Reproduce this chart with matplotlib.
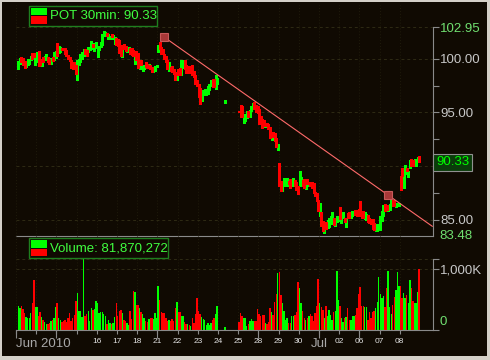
import numpy as np
import matplotlib
matplotlib.use("Agg")
import matplotlib.pyplot as plt
from matplotlib.patches import Rectangle

plt.rcParams['font.family'] = ['Liberation Sans', 'DejaVu Sans']

nan = np.nan
PER_DAY = 13  # 30 min bars per session

day_labels = ['Jun 2010', '', '', '', '16', '17', '18', '21', '22', '23', '24', '25',
              '28', '29', '30', 'Jul', '02', '06', '07', '08']
week_days = [0, 2, 7, 12, 15, 17]

# one row per trading day, 13 half-hour bars each
bar_low = [
    nan, 99.0, 99.5, 99.7, 99.45, 99.15, 99.2, 99.45, 99.55, 99.85, 100.0, 100.15, 99.45,
    99.7, 99.3, 99.4, 99.3, 99.7, 99.85, 100.0, 99.7, 99.5, 99.55, 99.8, 99.85, 100.1,
    100.25, 100.55, 100.6, 100.8, 100.8, 100.45, 100.3, 99.95, 99.75, 99.15, 99.0, 99.2, 98.6,
    98.05, 99.4, 99.7, 100.0, 100.3, 100.45, 100.3, 100.6, 100.8, 100.95, 101.1, 100.7, 101.0,
    100.15, 100.8, 101.1, 101.25, 102.1, 102.15, 102.1, 101.8, 101.8, 102.0, 101.85, 101.4, 101.3,
    101.2, 100.55, 100.3, 100.15, 100.95, 100.7, 100.6, 100.8, 100.45, 100.35, 100.25, 99.55, 99.85,
    99.15, 99.0, 99.4, 98.9, 99.05, 99.2, 99.15, 99.2, 99.05, 98.8, 98.8, 98.9, 99.2,
    100.6, 100.95, 100.45, 100.45, 100.0, 99.65, 99.05, 98.9, 98.9, 98.75, 98.6, 98.05, 98.0,
    98.45, 98.5, 98.45, 99.15, 99.05, 98.7, 98.75, 98.7, 98.8, 98.45, 98.3, 97.65, 97.5,
    96.45, 95.8, 96.1, 96.6, 96.6, 96.6, 96.75, 97.05, 97.45, 97.35, 97.35, 97.15, 97.6,
    nan, nan, nan, nan, 95.9, nan, nan, nan, nan, nan, nan, nan, nan,
    95.0, 94.55, 94.55, 94.05, 94.2, 94.45, 94.55, 94.6, 95.15, 95.3, 95.3, 95.0, 94.9,
    93.9, 93.9, 93.55, 93.75, 93.65, 93.75, 93.45, 92.65, 92.4, 92.75, 92.35, 91.8, 91.5,
    88.15, 87.7, 87.7, 88.15, 88.25, 88.15, 88.3, 88.0, 88.15, 88.4, 88.15, 87.75, 87.4,
    88.15, 88.25, 88.15, 88.0, 87.85, 88.3, 88.15, 88.15, 88.0, 87.45, 87.25, 86.75, 85.85,
    85.3, 84.45, 83.95, 83.8, 84.15, 84.2, 84.3, 84.6, 84.9, 84.55, 84.45, 84.75, 84.9,
    85.05, 84.65, 85.2, 84.75, 84.3, 85.15, 85.2, 85.2, 85.35, 85.45, 85.45, 85.35, 85.45,
    85.35, 85.15, 85.2, 85.05, 84.95, 84.75, 84.65, 84.6, 84.15, 84.05, 83.9, 83.95, 84.05,
    84.05, 84.9, 85.35, 85.85, 85.9, 85.85, 85.9, 86.3, 86.3, 86.3, 86.15, 86.3, 86.3,
    87.75, 89.1, 88.0, 89.25, 89.5, 88.95, 89.85, 90.05, 90.05, 90.05, 90.05, 90.35, 90.33,
]
bar_high = [
    nan, 99.8, 100.05, 100.15, 100.05, 99.8, 99.8, 100.0, 100.0, 100.3, 100.55, 100.55, 100.05,
    100.6, 100.7, 100.0, 99.95, 100.15, 100.3, 100.45, 100.15, 99.95, 100.05, 100.15, 100.6, 100.7,
    101.5, 101.2, 101.1, 101.0, 101.0, 101.0, 100.8, 100.35, 100.15, 99.85, 99.45, 99.7, 99.4,
    99.85, 100.0, 100.45, 100.6, 100.95, 100.95, 100.8, 101.1, 101.1, 101.65, 101.4, 101.5, 101.55,
    101.1, 101.2, 101.6, 102.35, 102.55, 102.5, 102.4, 102.35, 102.15, 102.35, 102.25, 102.0, 101.95,
    101.85, 101.7, 101.25, 101.3, 101.4, 101.2, 101.0, 101.1, 101.0, 101.0, 100.8, 100.7, 100.7,
    100.55, 99.75, 99.85, 99.4, 99.45, 99.65, 99.55, 99.55, 99.4, 99.2, 99.2, 99.3, 99.45,
    101.3, 101.55, 101.1, 100.95, 100.45, 100.25, 99.85, 99.65, 99.2, 99.3, 99.0, 98.8, 98.75,
    99.05, 99.15, 99.85, 99.85, 99.85, 99.45, 99.15, 99.3, 99.3, 99.4, 98.9, 98.45, 98.0,
    97.65, 97.25, 97.05, 97.05, 97.2, 97.05, 97.45, 97.65, 98.0, 98.15, 98.15, 98.45, 98.2,
    nan, nan, nan, nan, 96.2, nan, nan, nan, nan, nan, nan, nan, nan,
    95.15, 95.7, 95.55, 94.85, 94.85, 95.1, 95.15, 95.2, 95.6, 95.85, 95.95, 95.7, 95.55,
    95.3, 94.7, 94.4, 94.3, 94.05, 94.05, 93.9, 93.65, 93.05, 93.15, 93.05, 92.6, 92.05,
    90.25, 88.65, 88.5, 88.9, 88.8, 88.9, 88.65, 88.8, 88.8, 88.9, 88.7, 88.5, 88.15,
    89.55, 89.0, 88.7, 88.8, 88.8, 88.8, 88.55, 88.5, 88.5, 88.4, 87.55, 87.45, 86.85,
    86.6, 85.75, 84.9, 84.65, 84.75, 84.95, 85.15, 85.35, 85.75, 85.2, 85.05, 85.35, 85.3,
    86.15, 85.7, 85.75, 85.2, 85.05, 85.6, 85.7, 85.7, 85.85, 85.85, 85.9, 85.9, 85.95,
    86.7, 85.75, 85.85, 85.7, 85.5, 85.45, 85.15, 85.05, 85.05, 84.65, 84.55, 84.6, 84.6,
    85.35, 85.85, 86.4, 86.45, 86.4, 86.3, 86.45, 86.85, 86.85, 86.75, 86.6, 86.6, 86.6,
    89.1, 89.85, 89.85, 90.1, 89.8, 89.55, 90.55, 90.65, 90.55, 90.65, 90.45, 90.8, 90.95,
]
bar_up = [
    0, 1, 1, 0, 0, 0, 1, 1, 1, 1, 0, 0, 1,
    1, 0, 0, 1, 0, 1, 1, 0, 0, 1, 0, 1, 1,
    0, 1, 1, 0, 0, 0, 0, 0, 0, 0, 0, 0, 0,
    1, 1, 1, 1, 1, 0, 0, 1, 1, 1, 0, 1, 1,
    1, 1, 1, 1, 1, 1, 0, 1, 1, 0, 1, 1, 0,
    0, 0, 0, 1, 0, 0, 1, 1, 0, 0, 0, 1, 0,
    0, 1, 0, 1, 1, 0, 0, 1, 0, 0, 1, 1, 1,
    1, 0, 0, 0, 0, 0, 0, 1, 0, 0, 0, 0, 1,
    0, 0, 1, 1, 0, 0, 1, 0, 1, 0, 0, 0, 0,
    0, 0, 1, 1, 1, 1, 1, 1, 1, 0, 0, 1, 1,
    0, 0, 0, 0, 1, 0, 0, 0, 0, 0, 0, 0, 0,
    0, 0, 0, 1, 1, 1, 0, 1, 1, 1, 0, 0, 0,
    0, 0, 0, 0, 1, 0, 0, 0, 1, 0, 0, 0, 1,
    0, 0, 1, 1, 1, 1, 0, 0, 1, 1, 0, 0, 0,
    1, 1, 0, 0, 1, 0, 1, 0, 0, 0, 0, 0, 0,
    1, 0, 0, 1, 0, 1, 1, 1, 1, 0, 1, 1, 1,
    0, 1, 1, 0, 1, 0, 0, 1, 1, 1, 0, 0, 0,
    0, 0, 0, 1, 1, 0, 0, 0, 0, 0, 1, 1, 1,
    1, 1, 1, 0, 0, 1, 1, 1, 0, 0, 1, 1, 1,
    0, 0, 1, 1, 0, 1, 1, 0, 0, 1, 1, 1, 0,
]
# volume per bar, thousands of shares
volume_k = [
    nan, 393, 355, 393, 344, 273, 218, 191, 202, 273, 437, 820, 382,
    382, 235, 290, 218, 160, 137, 98, 98, 120, 153, 164, 200, 382,
    437, 202, 164, 137, 148, 164, 137, 200, 284, 148, 202, 250, 481,
    612, 311, 311, 218, 1164, 235, 257, 311, 148, 355, 328, 344, 475,
    437, 273, 290, 290, 262, 230, 98, 164, 109, 98, 109, 218, 437,
    230, 317, 328, 273, 164, 148, 109, 82, 311, 175, 639, 628, 410,
    410, 366, 300, 257, 202, 153, 137, 175, 202, 191, 180, 273, 200,
    721, 492, 300, 273, 284, 202, 153, 164, 148, 180, 153, 355, 464,
    300, 290, 230, 235, 137, 93, 93, 82, 71, 191, 120, 262, 530,
    311, 257, 218, 180, 164, 82, 109, 82, 109, 164, 191, 257, 393,
    nan, nan, nan, nan, 55, nan, nan, nan, nan, nan, nan, nan, nan,
    137, 273, 235, 191, 191, 71, 93, 148, 175, 148, 148, 148, 344,
    257, 230, 246, 246, 109, 98, 137, 355, 300, 246, 464, 585, 929,
    945, 574, 437, 311, 164, 191, 109, 120, 230, 230, 246, 300, 782,
    694, 437, 311, 191, 164, 191, 230, 257, 230, 148, 273, 393, 836,
    437, 382, 328, 191, 393, 230, 328, 246, 164, 300, 311, 967, 492,
    393, 191, 137, 191, 218, 366, 164, 164, 230, 230, 246, 355, 585,
    705, 393, 393, 372, 382, 164, 300, 202, 300, 311, 355, 464, 874,
    585, 530, 563, 382, 683, 967, 382, 257, 410, 546, 656, 956, 721,
    721, 530, 612, 519, 574, 437, 820, 683, 475, 437, 437, 628, 1000,
]

last_price = 90.33
price_max, price_min = 102.95, 83.48
trend_bar = [95.25, 239.4]       # bar index of the two anchors
trend_price = [102.03, 87.30]
volume_total = '81,870,272'

BG = '#100a02'
GREEN = '#00ff00'
RED = '#ff0000'
GRID = '#2e2a14'
VGRID = '#1f1b0b'
AXC = '#8a8a8a'
W, H = 490, 360


def fbox(x0, y0, x1, y1):
    return [x0 / W, 1 - y1 / H, (x1 - x0) / W, (y1 - y0) / H]


low = np.array(bar_low)
high = np.array(bar_high)
up = np.array(bar_up, dtype=bool)
vol = np.array(volume_k, dtype=float)
x = np.arange(len(low)) + 0.5
ok = ~np.isnan(low)
day_pos = np.arange(len(day_labels)) * PER_DAY
xmax = 268.4

fig = plt.figure(figsize=(4.9, 3.6), dpi=100, facecolor='#d4d0c8')
fig.add_artist(Rectangle((2 / W, 4 / H), 485 / W, 354 / H, transform=fig.transFigure,
                         facecolor=BG, edgecolor='none', zorder=-10))

# ---- price panel
ax = fig.add_axes(fbox(16, 5, 433, 236))
ax.set_facecolor('none')
ax.set_xlim(0, xmax)
ax.set_ylim(price_min, price_min + 231 / 10.73)
for d in day_pos:
    ax.axvline(d, color=VGRID, lw=0.7, ls=(0, (1, 2)), zorder=0)
for lvl in [85, 90, 95, 100, price_max]:
    ax.axhline(lvl, color=GRID, lw=0.7, ls=(0, (3, 3)), zorder=0)

m = ok & up
ax.vlines(x[m], low[m], high[m], colors=GREEN, lw=0.75, antialiased=False, zorder=2)
m = ok & ~up
ax.vlines(x[m], low[m], high[m], colors=RED, lw=0.75, antialiased=False, zorder=2)

slope = (trend_price[1] - trend_price[0]) / (trend_bar[1] - trend_bar[0])
x_end = xmax - 0.5
ax.plot([trend_bar[0], x_end], [trend_price[0], trend_price[0] + slope * (x_end - trend_bar[0])],
        color='#ff6a6a', lw=0.8, zorder=3)
ax.plot(trend_bar, trend_price, ls='none', marker='s', ms=6, mfc='#a83838', mec='#c85a5a',
        mew=0.8, zorder=4)

for s in ['top', 'left']:
    ax.spines[s].set_visible(False)
ax.spines['bottom'].set_color(AXC)
ax.spines['right'].set_color(AXC)
ax.spines['right'].set_bounds(price_min, price_max)
ax.set_xticks([])
ax.yaxis.tick_right()
ax.set_yticks([85, 87.5, 90, 92.5, 95, 97.5, 100, price_max])
ax.set_yticklabels(['85.00', '', '', '', '95.00', '', '100.00', f'{price_max:.2f}'])
ax.tick_params(axis='y', direction='out', length=4, width=0.8, color=AXC,
               labelcolor='#c8c8c8', labelsize=9.5, pad=1)
ax.get_yticklabels()[-1].set_color('#70e070')
ax.annotate(f'{price_min:.2f}', xy=(1, price_min), xycoords=('axes fraction', 'data'),
            xytext=(6, 0), textcoords='offset pixels', va='center', ha='left',
            color='#70e070', fontsize=9.5, annotation_clip=False)
ax.annotate(f'{last_price:.2f}', xy=(1, last_price), xycoords=('axes fraction', 'data'),
            xytext=(3, 0), textcoords='offset pixels', va='center', ha='left',
            color=GREEN, fontsize=9.5, annotation_clip=False,
            bbox=dict(boxstyle='square,pad=0.2', fc='#0a3c0a', ec='#909090', lw=0.8))

# ---- volume panel
vax = fig.add_axes(fbox(16, 236, 433, 330))
vax.set_facecolor('none')
vax.set_xlim(0, xmax)
vmax = np.nanmax(vol)
vax.set_ylim(0, 94 / 61 * 1000)
for d in day_pos:
    vax.axvline(d, color=VGRID, lw=0.7, ls=(0, (1, 2)), zorder=0)
for lvl in [1000, vmax]:
    vax.axhline(lvl, color=GRID, lw=0.7, ls=(0, (3, 3)), zorder=0)
vok = ~np.isnan(vol)
vcol = np.where(up, GREEN, RED)
vax.bar(x[vok], vol[vok], width=0.9, color=vcol[vok], linewidth=0, antialiased=False, zorder=2)

for s in ['top', 'left']:
    vax.spines[s].set_visible(False)
vax.spines['bottom'].set_color(AXC)
vax.spines['right'].set_color(AXC)
vax.spines['right'].set_bounds(0, vmax)
vax.yaxis.tick_right()
vax.set_yticks([0, 1000, vmax])
vax.set_yticklabels(['', '1,000K', ''])
vax.tick_params(axis='y', direction='out', length=4, width=0.8, color=AXC,
                labelcolor='#c8c8c8', labelsize=9.5, pad=1)
vax.annotate('0', xy=(1, 0), xycoords=('axes fraction', 'data'), xytext=(6, 8),
             textcoords='offset pixels', va='center', ha='left', color='#70e070',
             fontsize=9.5, annotation_clip=False)

vax.xaxis.remove_overlapping_locs = False
vax.set_xticks(day_pos)
vax.set_xticklabels(day_labels)
vax.set_xticks(np.array(week_days) * PER_DAY, minor=True)
vax.tick_params(axis='x', which='major', direction='out', length=3, width=0.8, color=AXC,
                labelcolor='#e0e0e0', labelsize=6, pad=3)
vax.tick_params(axis='x', which='minor', direction='out', length=6, width=0.8, color=AXC)
for t in vax.get_xticklabels():
    if t.get_text() in ('Jun 2010', 'Jul'):
        t.set_fontsize(9.5)
        t.set_color('#a8a8a8')
    if t.get_text() == 'Jun 2010':
        t.set_ha('left')

# ---- legend boxes
def legend_box(x0, y0, x1, y1, label):
    fig.add_artist(Rectangle((x0 / W, 1 - y1 / H), (x1 - x0) / W, (y1 - y0) / H,
                             transform=fig.transFigure, fc=BG, ec='#1f7f1f', lw=1.0, zorder=10))
    mid = (y0 + y1) / 2
    fig.add_artist(Rectangle(((x0 + 2) / W, 1 - (mid - 0.5) / H), 16 / W, (mid - 0.5 - y0 - 2) / H,
                             transform=fig.transFigure, fc=GREEN, ec='none', zorder=11))
    fig.add_artist(Rectangle(((x0 + 2) / W, 1 - (y1 - 2) / H), 16 / W, (y1 - 2 - mid - 0.5) / H,
                             transform=fig.transFigure, fc=RED, ec='none', zorder=11))
    fig.text((x0 + 21) / W, 1 - (mid + 0.5) / H, label, color='#40ff40', fontsize=9.5,
             va='center', ha='left', zorder=12)


legend_box(29, 6, 157, 25.5, f'POT 30min: {last_price:.2f}')
legend_box(29, 238, 168, 258, f'Volume: {volume_total}')

fig.savefig('out.png', dpi=100, facecolor=fig.get_facecolor())
